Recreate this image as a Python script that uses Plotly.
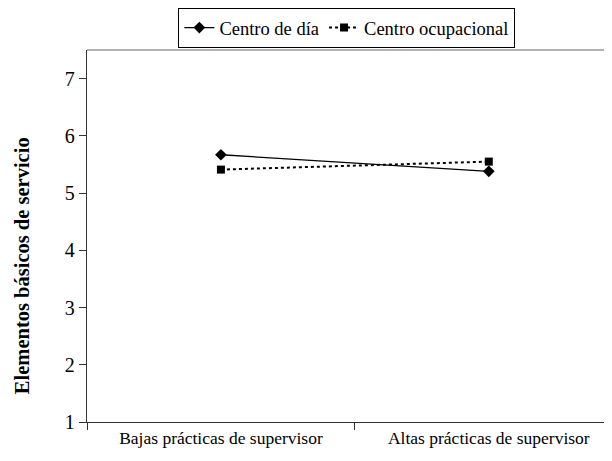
import plotly.graph_objects as go

categories = ["Bajas prácticas de supervisor", "Altas prácticas de supervisor"]
centro_dia = [5.67, 5.38]
centro_ocupacional = [5.41, 5.55]
y_ticks = [1, 2, 3, 4, 5, 6, 7]

serif = "Liberation Serif"
fsize = 17.5

fig = go.Figure()

fig.add_trace(go.Scatter(
    x=categories, y=centro_dia, name="Centro de día",
    mode="lines+markers",
    line=dict(color="black", width=1.3),
    marker=dict(symbol="diamond", size=9, color="black"),
))
fig.add_trace(go.Scatter(
    x=categories, y=centro_ocupacional, name="Centro ocupacional",
    mode="lines+markers",
    line=dict(color="black", width=2, dash="3px,3px"),
    marker=dict(symbol="square", size=8, color="black"),
))

# page body has an 8px margin, so the figure is a bit smaller and shifted
fig.update_layout(
    width=604, height=453,
    margin=dict(l=79, r=0, t=42, b=39),
    plot_bgcolor="white", paper_bgcolor="white",
    font=dict(family=serif, size=fsize, color="black"),
    showlegend=True,
    legend=dict(
        orientation="h", x=0.495, xanchor="center",
        yref="container", y=1.0, yanchor="top",
        bordercolor="black", borderwidth=1,
        font=dict(family=serif, size=18.5, color="black"),
        itemwidth=30, tracegroupgap=0,
    ),
)

fig.update_xaxes(
    type="category", range=[-0.5, 1.46],
    showline=True, linecolor="#333", linewidth=1.3,
    ticks="outside", ticklen=7, tickcolor="#333",
    tickson="boundaries", showgrid=False, zeroline=False,
    tickfont=dict(family=serif, size=fsize, color="black"),
)
fig.update_yaxes(
    range=[1, 7.5], tickvals=y_ticks,
    showline=True, linecolor="#333", linewidth=1.3,
    ticks="outside", ticklen=7, tickcolor="#333",
    showgrid=False, zeroline=False,
    tickfont=dict(family=serif, size=20, color="black"),
)

# top border of the plot area
fig.add_shape(type="line", xref="paper", yref="paper",
              x0=0, x1=1, y0=1, y1=1, line=dict(color="#999", width=1.3))

fig.add_annotation(
    text="<b>Elementos básicos de servicio</b>",
    xref="paper", yref="paper", x=-0.125, y=0.42,
    xanchor="center", yanchor="middle",
    textangle=-90, showarrow=False,
    font=dict(family=serif, size=20.5, color="black"),
)

fig.write_html("out.html")
